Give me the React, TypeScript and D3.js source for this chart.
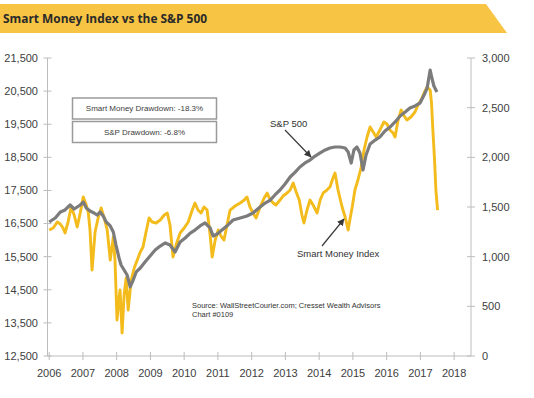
import React from "react";
import * as d3 from "d3";

const W = 534;
const H = 398;

const chartTitle = "Smart Money Index vs the S&P 500";
const yearTicks = [2006, 2007, 2008, 2009, 2010, 2011, 2012, 2013, 2014, 2015, 2016, 2017, 2018];
const smiTicks = [12500, 13500, 14500, 15500, 16500, 17500, 18500, 19500, 20500, 21500];
const spxTicks = [0, 500, 1000, 1500, 2000, 2500, 3000];
const boxLabels = ["Smart Money Drawdown: -18.3%", "S&P Drawdown: -6.8%"];
const sourceLines = ["Source: WallStreetCourier.com; Cresset Wealth Advisors", "Chart #0109"];

// S&P 500 (right axis)
const spxDates = [
  2006.0, 2006.18, 2006.33, 2006.47, 2006.62, 2006.74, 2006.83, 2006.92, 2007.01, 2007.1,
  2007.21, 2007.33, 2007.42, 2007.51, 2007.6, 2007.69, 2007.81, 2007.9, 2007.98, 2008.07,
  2008.13, 2008.22, 2008.31, 2008.4, 2008.49, 2008.58, 2008.7, 2008.84, 2008.99, 2009.14,
  2009.29, 2009.44, 2009.58, 2009.73, 2009.88, 2010.03, 2010.18, 2010.32, 2010.47, 2010.62,
  2010.77, 2010.86, 2010.98, 2011.12, 2011.3, 2011.45, 2011.66, 2011.86, 2012.04, 2012.25,
  2012.4, 2012.55, 2012.69, 2012.84, 2012.99, 2013.14, 2013.29, 2013.43, 2013.58, 2013.73,
  2013.88, 2014.03, 2014.18, 2014.32, 2014.47, 2014.62, 2014.77, 2014.86, 2014.95, 2015.03,
  2015.12, 2015.21, 2015.3, 2015.39, 2015.51, 2015.66, 2015.8, 2015.95, 2016.1, 2016.25,
  2016.4, 2016.55, 2016.69, 2016.84, 2016.99, 2017.11, 2017.2, 2017.29, 2017.34, 2017.4, 2017.49,
];
const spxValues = [
  1349, 1389, 1450, 1470, 1520, 1480, 1500, 1520, 1550, 1490,
  1460, 1440, 1419, 1450, 1409, 1349, 1309, 1248, 1117, 987,
  916, 866, 815, 695, 765, 846, 886, 946, 1007, 1067,
  1107, 1138, 1117, 1047, 1148, 1188, 1238, 1268, 1309, 1339,
  1289, 1208, 1228, 1268, 1319, 1369, 1389, 1409, 1440, 1500,
  1540, 1570, 1621, 1671, 1732, 1802, 1852, 1903, 1943, 1973,
  2013, 2044, 2074, 2094, 2104, 2104, 2094, 2054, 1943, 2074,
  2104, 2044, 1872, 2023, 2134, 2174, 2205, 2265, 2305, 2356,
  2416, 2456, 2497, 2517, 2547, 2627, 2698, 2879, 2799, 2718, 2658,
];

// Smart Money Index (left axis)
const smiDates = [
  2006.0, 2006.12, 2006.24, 2006.33, 2006.41, 2006.47, 2006.56, 2006.65, 2006.74, 2006.83,
  2006.92, 2007.01, 2007.1, 2007.16, 2007.21, 2007.27, 2007.36, 2007.45, 2007.54, 2007.63,
  2007.72, 2007.81, 2007.9, 2007.95, 2008.01, 2008.07, 2008.1, 2008.16, 2008.22, 2008.28,
  2008.34, 2008.43, 2008.52, 2008.61, 2008.7, 2008.78, 2008.87, 2008.96, 2009.05, 2009.17,
  2009.29, 2009.41, 2009.5, 2009.58, 2009.67, 2009.76, 2009.88, 2010.0, 2010.12, 2010.24,
  2010.32, 2010.41, 2010.5, 2010.59, 2010.68, 2010.77, 2010.83, 2010.92, 2011.01, 2011.09,
  2011.18, 2011.27, 2011.36, 2011.51, 2011.66, 2011.78, 2011.86, 2011.95, 2012.04, 2012.13,
  2012.25, 2012.37, 2012.46, 2012.55, 2012.64, 2012.72, 2012.84, 2012.93, 2013.05, 2013.14,
  2013.23, 2013.32, 2013.41, 2013.49, 2013.55, 2013.64, 2013.73, 2013.82, 2013.94, 2014.03,
  2014.12, 2014.23, 2014.32, 2014.41, 2014.47, 2014.56, 2014.68, 2014.77, 2014.86, 2014.92,
  2014.98, 2015.06, 2015.15, 2015.24, 2015.33, 2015.42, 2015.51, 2015.6, 2015.69, 2015.8,
  2015.92, 2016.01, 2016.1, 2016.19, 2016.25, 2016.34, 2016.43, 2016.52, 2016.6, 2016.72,
  2016.84, 2016.93, 2017.02, 2017.11, 2017.2, 2017.29, 2017.33, 2017.37, 2017.42, 2017.46, 2017.51,
];
const smiValues = [
  16305, 16366, 16547, 16486, 16366, 16215, 16547, 17000, 16758, 16396,
  16819, 17302, 17060, 16819, 16305, 15097, 16245, 16668, 16970, 16668,
  16305, 15399, 16094, 15399, 13587, 14252, 14493, 13195, 14342, 14856,
  13889, 14795, 15158, 15399, 15641, 15792, 16245, 16668, 16547, 16517,
  16607, 16758, 16819, 16456, 15490, 15852, 16215, 16366, 16547, 16909,
  17121, 16909, 16819, 17000, 16909, 16154, 15490, 16003, 16305, 16124,
  16003, 16456, 16909, 17030, 17121, 17211, 17302, 17000, 16819, 16668,
  17000, 17272, 17423, 17211, 17121, 17060, 17211, 17332, 17423, 17513,
  17725, 17453, 17211, 16758, 16517, 16909, 17211, 17060, 16819, 17211,
  17423, 17513, 17604, 17876, 18027, 17513, 17000, 16698, 16305, 16668,
  17000, 17513, 17815, 18178, 18721, 19114, 19416, 19265, 19114, 19325,
  19567, 19506, 19325, 19235, 19114, 19627, 19929, 19748, 19627, 19718,
  19869, 20080, 20231, 20443, 20624, 20533, 20141, 19325, 18419, 17513, 16909,
];

const YELLOW = "#F3BC1C";
const GRAY = "#7C7C7C";
const AXIS = "#BDBDBD";
const TEXT = "#404040";
const FONT = "'Liberation Sans', Arial, sans-serif";

export default function App() {
  const x = d3.scaleLinear().domain([2005.95, 2018.5]).range([47.5, 471]);
  const yL = d3.scaleLinear().domain([12500, 21500]).range([356, 58]);
  const yR = d3.scaleLinear().domain([0, 3000]).range([356, 58]);
  const fmt = d3.format(",");

  const smiLine = d3
    .line<number>()
    .x((_, i) => x(smiDates[i]))
    .y((d) => yL(d));
  const spxLine = d3
    .line<number>()
    .x((_, i) => x(spxDates[i]))
    .y((d) => yR(d));

  const x0 = x.range()[0];
  const x1 = x.range()[1];
  const yBottom = yL.range()[0];
  const yTop = yL.range()[1];

  return (
    <svg
      width={W}
      height={H}
      style={{ position: "absolute", left: 0, top: 0, background: "#fff" }}
      fontFamily={FONT}
    >
      <defs>
        <marker id="arr" viewBox="0 0 10 10" refX="9" refY="5" markerWidth="6" markerHeight="6" orient="auto">
          <path d="M0,0 L10,5 L0,10 z" fill="#3a3a3a" />
        </marker>
      </defs>
      <rect x={0} y={0} width={W} height={H} fill="#fff" />

      {/* Title banner */}
      <polygon points="0,4 486,4 507,33 0,33" fill="#F7C443" />
      <text
        x={3}
        y={23}
        fontFamily="'Open Sans', 'Noto Sans', sans-serif"
        fontWeight={700}
        fontSize={12.5}
        fill="#2a2a2a"
        textLength={204}
        lengthAdjust="spacingAndGlyphs"
      >
        {chartTitle}
      </text>

      {/* Axes */}
      <line x1={x0} y1={yTop} x2={x0} y2={yBottom} stroke={AXIS} strokeWidth={1} />
      <line x1={x1} y1={yTop} x2={x1} y2={yBottom} stroke={AXIS} strokeWidth={1} />
      <line x1={x0} y1={yBottom} x2={x1} y2={yBottom} stroke={AXIS} strokeWidth={1} />

      {smiTicks.map((t) => (
        <g key={"l" + t}>
          <line x1={x0 - 4} x2={x0 + 4} y1={yL(t)} y2={yL(t)} stroke={AXIS} />
          <text x={38} y={yL(t)} dy="0.35em" textAnchor="end" fontSize={11} fill={TEXT}>
            {fmt(t)}
          </text>
        </g>
      ))}
      {spxTicks.map((t) => (
        <g key={"r" + t}>
          <line x1={x1 - 4} x2={x1 + 4} y1={yR(t)} y2={yR(t)} stroke={AXIS} />
          <text x={482} y={yR(t)} dy="0.35em" textAnchor="start" fontSize={11} fill={TEXT}>
            {fmt(t)}
          </text>
        </g>
      ))}
      {yearTicks.map((t) => (
        <g key={"x" + t}>
          <line x1={x(t)} x2={x(t)} y1={yBottom - 4} y2={yBottom + 4} stroke={AXIS} />
          <text x={x(t)} y={377} textAnchor="middle" fontSize={11} fill={TEXT}>
            {t}
          </text>
        </g>
      ))}

      {/* Series */}
      <path d={smiLine(smiValues) || ""} fill="none" stroke={YELLOW} strokeWidth={2.9} strokeLinejoin="round" />
      <path d={spxLine(spxValues) || ""} fill="none" stroke={GRAY} strokeWidth={3.2} strokeLinejoin="round" />

      {/* Drawdown boxes */}
      {boxLabels.map((b, i) => (
        <g key={b}>
          <rect x={72.5} y={98 + i * 23.5} width={144} height={21} fill="#fff" stroke="#9a9a9a" strokeWidth={1.5} />
          <text x={144.5} y={98 + i * 23.5 + 10.5} dy="0.35em" textAnchor="middle" fontSize={8} fill={TEXT}>
            {b}
          </text>
        </g>
      ))}

      {/* Annotations */}
      <text x={270} y={126.5} fontSize={9.5} fill="#333">S&amp;P 500</text>
      <line x1={285} y1={130} x2={311} y2={157} stroke="#3a3a3a" strokeWidth={1.2} markerEnd="url(#arr)" />
      <text x={297} y={257} fontSize={9.5} fill="#333">Smart Money Index</text>
      <line x1={322} y1={246} x2={344} y2={219} stroke="#3a3a3a" strokeWidth={1.2} markerEnd="url(#arr)" />

      {/* Source */}
      {sourceLines.map((s, i) => (
        <text key={s} x={192} y={308 + i * 8.5} fontSize={7.5} fill="#333">
          {s}
        </text>
      ))}
    </svg>
  );
}
